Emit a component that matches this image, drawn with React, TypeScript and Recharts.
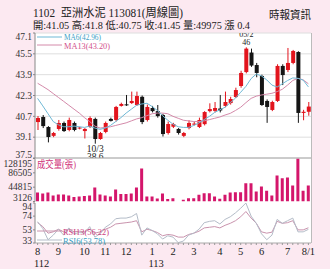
import React from 'react';
import { ComposedChart, Bar, Line, XAxis, YAxis, CartesianGrid, ReferenceLine } from 'recharts';

// 亞洲水泥 1102 weekly, 112/08 - 113/08/01
const opens = [40.26, 40.65, 39.88, 39.2, 39.73, 40.19, 39.65, 40.19, 39.78, 39.57, 39.88, 40.5, 38.96, 39.5, 40.5, 40.42, 41.5, 41.62, 41.72, 41.57, 42.2, 40.42, 41.34, 41.1, 40.8, 39.42, 39.9, 39.73, 39.2, 39.8, 40.1, 39.88, 40.1, 41.1, 41.12, 41.3, 41.5, 41.72, 42.18, 43.03, 44.1, 45.6, 44.64, 43.8, 41.88, 41.19, 41.88, 44.57, 44.26, 44.8, 45.64, 40.96, 41.05];
const highs = [40.72, 40.8, 39.95, 39.5, 40.42, 40.3, 40.6, 40.3, 39.9, 39.8, 40.7, 40.6, 39.5, 40.3, 40.6, 41.5, 41.75, 42.34, 42.6, 42.6, 42.3, 41.6, 41.5, 41.57, 40.9, 40.3, 40.2, 39.8, 39.5, 40.4, 40.3, 40.6, 41.1, 41.7, 41.8, 42.34, 42.6, 42.2, 42.9, 44.2, 46.0, 45.9, 44.8, 43.9, 42.0, 41.9, 44.7, 44.7, 45.95, 45.8, 45.7, 41.2, 41.8];
const lows = [39.65, 39.8, 38.7, 39.1, 39.6, 39.5, 39.55, 39.55, 39.7, 39.0, 39.8, 38.6, 38.9, 39.4, 40.3, 40.3, 41.45, 41.5, 41.65, 41.5, 40.1, 40.3, 41.0, 40.6, 39.15, 39.3, 39.8, 39.3, 39.1, 39.7, 40.0, 39.8, 40.0, 41.0, 41.0, 41.0, 41.4, 41.6, 42.1, 42.9, 44.0, 44.5, 43.7, 41.5, 40.2, 41.1, 41.8, 43.1, 44.1, 44.7, 40.2, 40.4, 40.75];
const closes = [40.57, 39.95, 39.11, 39.42, 40.19, 39.57, 40.42, 39.65, 39.84, 39.73, 40.57, 38.96, 39.42, 40.19, 40.35, 41.42, 41.65, 41.55, 41.88, 42.26, 40.26, 41.42, 41.1, 40.72, 39.34, 40.11, 40.11, 39.42, 39.42, 40.19, 40.14, 40.42, 41.03, 41.26, 41.34, 41.15, 41.8, 42.03, 42.72, 44.03, 45.9, 44.6, 44.03, 41.57, 41.42, 41.8, 44.57, 43.87, 44.8, 45.72, 40.96, 41.05, 41.45];
const ma6 = [42.08, 41.5, 40.9, 40.3, 40.05, 39.9, 39.9, 39.95, 39.9, 39.85, 39.95, 39.8, 39.7, 39.8, 40.0, 40.3, 40.6, 40.95, 41.25, 41.55, 41.65, 41.7, 41.45, 41.15, 40.75, 40.4, 40.1, 39.9, 39.85, 39.85, 40.0, 40.2, 40.45, 40.7, 41.0, 41.2, 41.4, 41.75, 42.1, 42.55, 43.0, 43.6, 43.95, 43.8, 43.5, 43.1, 42.95, 43.2, 43.45, 43.65, 43.62, 43.48, 42.96];
const ma13 = [43.24, 43.0, 42.75, 42.45, 42.15, 41.85, 41.55, 41.25, 40.95, 40.6, 40.3, 39.95, 39.8, 39.85, 39.9, 40.0, 40.1, 40.2, 40.35, 40.5, 40.6, 40.75, 40.9, 40.95, 40.95, 40.9, 40.7, 40.55, 40.4, 40.35, 40.3, 40.3, 40.35, 40.45, 40.55, 40.65, 40.8, 40.93, 41.15, 41.4, 41.75, 42.08, 42.25, 42.34, 42.4, 42.47, 42.6, 42.78, 43.1, 43.45, 43.62, 43.5, 43.2];
const volumes = [29300, 26400, 29300, 20600, 23500, 23500, 20600, 16200, 17700, 19100, 20600, 43800, 23500, 20600, 17700, 38000, 25000, 25000, 26400, 43800, 99100, 17700, 17700, 11800, 26400, 10400, 12700, 3126, 8100, 12700, 12700, 22600, 27300, 27300, 17700, 11000, 22600, 29300, 30200, 30200, 56400, 56400, 32200, 46800, 34300, 20600, 78800, 70900, 73000, 49700, 128195, 34300, 49975];
const rsi6 = [65.5, 55, 38, 45, 54, 45, 56, 47, 49, 48, 58, 42, 47, 57, 62, 70, 71, 71, 73, 78, 45, 56, 52, 47, 39, 44, 42, 33.5, 36, 45, 48, 54, 64, 66, 67, 62, 69, 73, 79, 86, 94, 74, 63, 47, 38, 45, 69, 63, 67, 71, 50, 50, 53.78];
const rsi13 = [64, 58, 48, 50, 54, 50, 54, 50, 51, 50, 54, 48, 50, 54, 57, 62, 63, 64, 65, 67, 50, 54, 52, 49, 44, 46, 45, 42, 42, 46, 48, 51, 56, 57, 58, 56, 60, 63, 67, 73, 81, 71, 63, 50, 48, 49.5, 66, 63, 64, 67, 53, 53, 56.22];

const monthLabels: Record<number, string> = { 0: '8', 4: '9', 9: '10', 13: '11', 17: '12', 22: '1', 26: '2', 30: '3', 35: '4', 39: '5', 43: '6', 48: '7', 52: '8/1' };
const yearLabels: Record<number, string> = { 0: '112', 22: '113' };

const priceTicks = [47.1, 45.5, 43.9, 42.3, 40.7, 39.1, 37.5];
const volumeTicks = [128195, 86505, 44815, 3126];
const rsiTicks = [94, 74, 53, 33];

const notes = [
  { index: 40, date: '05/2', value: '46', side: 'top' },
  { index: 11, date: '10/3', value: '38.6', side: 'bottom' },
];

const data = opens.map((o, i) => ({
  i,
  open: o,
  high: highs[i],
  low: lows[i],
  close: closes[i],
  ma6: ma6[i],
  ma13: ma13[i],
  vol: volumes[i],
  rsi6: rsi6[i],
  rsi13: rsi13[i],
}));

const SERIF = '"Liberation Serif", "Noto Sans CJK TC", serif';
const RED = '#e2141d';
const BLACK = '#151515';
const VOL = '#d4166b';
const MA6_C = '#6fb9d6';
const MA13_C = '#d48aaa';
const RSI6_C = '#b4bcc8';
const RSI13_C = '#c993ad';
const M = { right: 19, left: 0 };

const Candle = (props: any) => {
  const { x, y, width, height, payload } = props;
  const top = Math.min(y, y + height);
  const h = Math.abs(height);
  const { open, close, high, low } = payload;
  const k = h / (high - low || 1);
  const cx = x + width / 2;
  const color = close >= open ? RED : BLACK;
  const bTop = top + (high - Math.max(open, close)) * k;
  const bBot = top + (high - Math.min(open, close)) * k;
  const note = notes.find((n) => n.index === payload.i);
  return (
    <g>
      <line x1={cx} x2={cx} y1={top} y2={top + h} stroke={color} strokeWidth={1} />
      <rect x={x} y={bTop} width={width} height={Math.max(1, bBot - bTop)} fill={color} />
      {note && note.side === 'top' && (
        <g fontFamily={SERIF} fontSize={8} fill="#222" textAnchor="middle">
          <text x={cx} y={top - 10}>{note.date}</text>
          <text x={cx} y={top - 2}>{note.value}</text>
        </g>
      )}
      {note && note.side === 'bottom' && (
        <g fontFamily={SERIF} fontSize={9.5} fill="#222" textAnchor="middle">
          <text x={cx} y={top + h + 8}>{note.date}</text>
          <text x={cx} y={top + h + 16.5}>{note.value}</text>
        </g>
      )}
    </g>
  );
};

const makeTick = (hi: number, lo: number, down: number, up: number) => (props: any) => {
  const { x, y, payload } = props;
  let dy = 0;
  if (payload.value === hi) dy = down;
  if (payload.value === lo) dy = -up;
  return (
    <text x={x} y={y + dy} dy="0.35em" textAnchor="end" fontSize={9.5} fill="#333" fontFamily={SERIF}>
      {payload.value}
    </text>
  );
};

const MonthTick = (props: any) => {
  const { x, y, payload } = props;
  const m = monthLabels[payload.value];
  const yr = yearLabels[payload.value];
  return (
    <g fontFamily={SERIF} fontSize={10.5} fill="#222" textAnchor="middle">
      {m && <text x={x} y={y + 8}>{m}</text>}
      {yr && <text x={x + 4} y={y + 20}>{yr}</text>}
    </g>
  );
};

const axisProps = {
  width: 35,
  tickSize: 2,
  tickMargin: 1,
  axisLine: { stroke: '#888' },
  tickLine: { stroke: '#888' },
  interval: 0 as const,
  allowDataOverflow: true,
  type: 'number' as const,
};

export default function App() {
  return (
    <div style={{ position: 'absolute', left: 0, top: 0, width: 330, height: 269, background: '#fce9f1', overflow: 'hidden' }}>
      <div style={{ position: 'absolute', left: 35, top: 33, width: 276, height: 210, background: '#fff', borderRight: '1px solid #bbb' }} />

      <div style={{ position: 'absolute', left: 0, top: 0 }}>
        <ComposedChart width={330} height={165} data={data} margin={{ top: 33, bottom: 7, ...M }}>
          <CartesianGrid vertical={false} stroke="#dedede" />
          <XAxis dataKey="i" hide />
          <YAxis {...axisProps} domain={[37.5, 47.1]} ticks={priceTicks} tick={makeTick(47.1, 37.5, 4, 3)} />
          <ReferenceLine y={37.5} stroke="#a8a8a8" />
          <Bar dataKey={(d: any) => [d.low, d.high]} shape={<Candle />} barSize={4} isAnimationActive={false} />
          <Line dataKey="ma13" stroke={MA13_C} strokeWidth={1} dot={false} isAnimationActive={false} />
          <Line dataKey="ma6" stroke={MA6_C} strokeWidth={1} dot={false} isAnimationActive={false} />
        </ComposedChart>
      </div>

      <div style={{ position: 'absolute', left: 0, top: 150 }}>
        <ComposedChart width={330} height={60} data={data} margin={{ top: 8.5, bottom: 8.5, ...M }}>
          <XAxis dataKey="i" hide />
          <YAxis {...axisProps} domain={[3126, 128195]} ticks={volumeTicks} tick={makeTick(128195, 3126, 5.5, 3.5)} />
          <Bar dataKey="vol" fill={VOL} barSize={3} isAnimationActive={false} />
        </ComposedChart>
      </div>

      <div style={{ position: 'absolute', left: 0, top: 195 }}>
        <ComposedChart width={330} height={74} data={data} margin={{ top: 8, bottom: 0, ...M }}>
          <XAxis dataKey="i" scale="band" interval={0} height={26} tickSize={2} tickLine={{ stroke: '#999' }} axisLine={{ stroke: '#aaa' }} tick={<MonthTick />} />
          <YAxis {...axisProps} domain={[33, 94]} ticks={rsiTicks} tick={makeTick(94, 33, 4, 2.3)} />
          <Line dataKey="rsi13" stroke={RSI13_C} strokeWidth={1} dot={false} isAnimationActive={false} />
          <Line dataKey="rsi6" stroke={RSI6_C} strokeWidth={1} dot={false} isAnimationActive={false} />
        </ComposedChart>
      </div>

      <svg width={330} height={269} style={{ position: 'absolute', left: 0, top: 0, pointerEvents: 'none' }} fontFamily={SERIF}>
        <text x={33} y={17} fontSize={12} fill="#222" textLength={150} lengthAdjust="spacingAndGlyphs" style={{ whiteSpace: 'pre' }}>
          1102  亞洲水泥 113081(周線圖)
        </text>
        <text x={33} y={28.5} fontSize={10.5} fill="#222" textLength={217} lengthAdjust="spacingAndGlyphs">
          開:41.05 高:41.8 低:40.75 收:41.45 量:49975 漲 0.4
        </text>
        <text x={269} y={19} fontSize={11} fill="#222" textLength={42} lengthAdjust="spacingAndGlyphs">
          時報資訊
        </text>

        <line x1={37} x2={62} y1={37} y2={37} stroke={MA6_C} />
        <text x={64} y={40} fontSize={8.5} fill="#3d9fc6" textLength={37} lengthAdjust="spacingAndGlyphs">MA6(42.96)</text>
        <line x1={37} x2={62} y1={45} y2={45} stroke={MA13_C} />
        <text x={64} y={48.5} fontSize={8.5} fill="#d2508c" textLength={46} lengthAdjust="spacingAndGlyphs">MA13(43.20)</text>

        <text x={37} y={168} fontSize={10.5} fill="#d0337a" textLength={39} lengthAdjust="spacingAndGlyphs">成交量(張)</text>

        <line x1={37} x2={62} y1={231} y2={231} stroke={RSI13_C} />
        <text x={63} y={234.5} fontSize={9} fill="#cc3f80" textLength={46} lengthAdjust="spacingAndGlyphs">RSI13(56.22)</text>
        <line x1={37} x2={62} y1={240} y2={240} stroke={RSI6_C} />
        <text x={63} y={243.5} fontSize={9} fill="#3a9cc2" textLength={42} lengthAdjust="spacingAndGlyphs">RSI6(53.78)</text>
      </svg>
    </div>
  );
}
